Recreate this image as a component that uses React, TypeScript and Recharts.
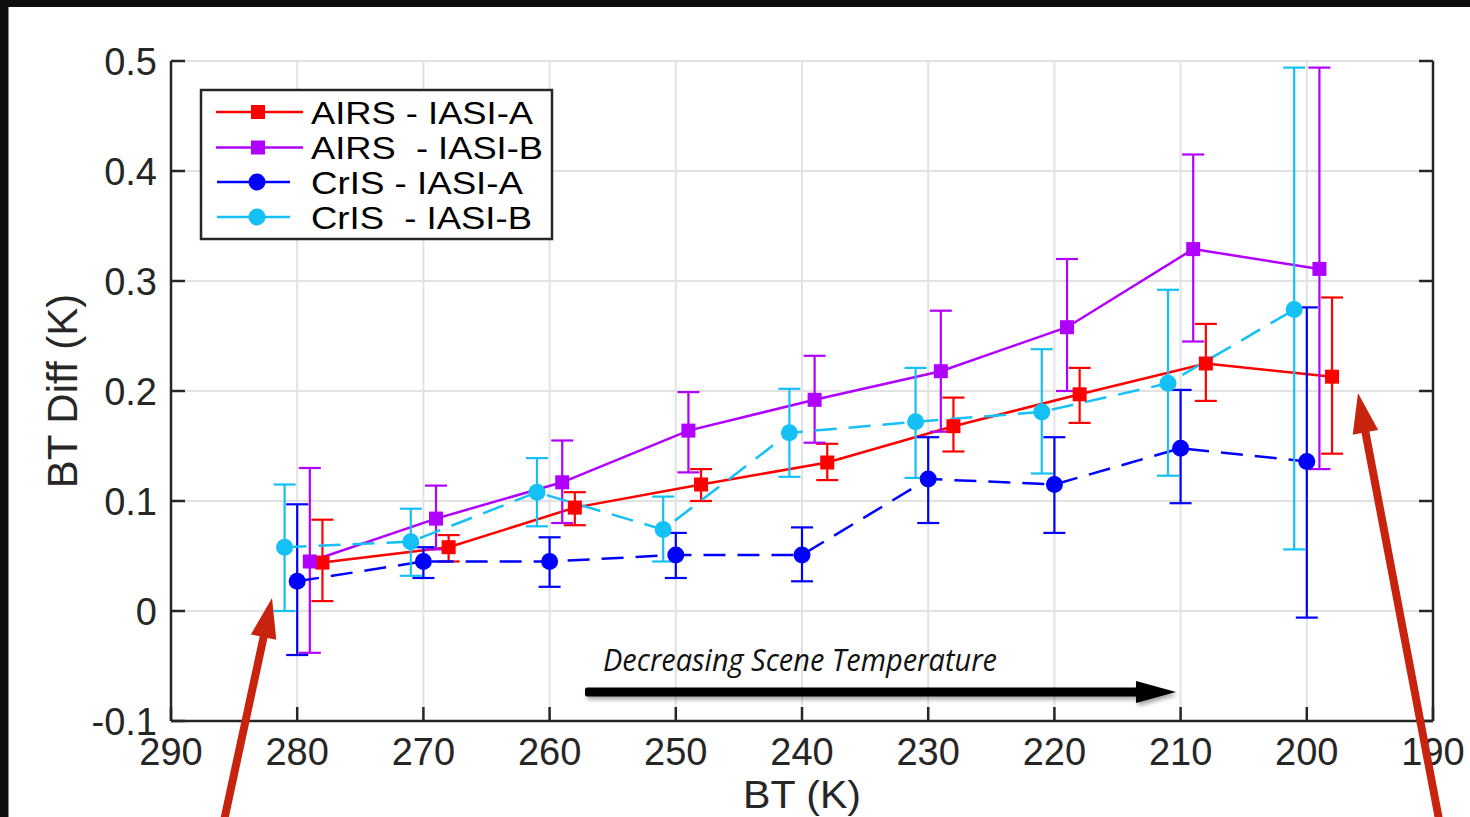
import React from 'react';
import { ComposedChart, Line, XAxis, YAxis, CartesianGrid, ErrorBar, Legend } from 'recharts';

// ---------- axes ----------
const X_TICKS = [290, 280, 270, 260, 250, 240, 230, 220, 210, 200, 190];
const Y_TICKS = [-0.1, 0, 0.1, 0.2, 0.3, 0.4, 0.5];

// ---------- series: AIRS - IASI-A ----------
const AIRS_A_BT = [278, 268, 258, 248, 238, 228, 218, 208, 198];
const AIRS_A_MEAN = [0.044, 0.058, 0.094, 0.115, 0.135, 0.168, 0.197, 0.225, 0.213];
const AIRS_A_LOW = [0.009, 0.045, 0.078, 0.1, 0.119, 0.145, 0.171, 0.191, 0.143];
const AIRS_A_HIGH = [0.083, 0.069, 0.108, 0.129, 0.152, 0.194, 0.221, 0.261, 0.285];

// ---------- series: AIRS - IASI-B ----------
const AIRS_B_BT = [279, 269, 259, 249, 239, 229, 219, 209, 199];
const AIRS_B_MEAN = [0.045, 0.084, 0.117, 0.164, 0.192, 0.218, 0.258, 0.329, 0.311];
const AIRS_B_LOW = [-0.038, 0.056, 0.08, 0.126, 0.153, 0.163, 0.2, 0.245, 0.129];
const AIRS_B_HIGH = [0.13, 0.114, 0.155, 0.199, 0.232, 0.273, 0.32, 0.415, 0.494];

// ---------- series: CrIS - IASI-A ----------
const CRIS_A_BT = [280, 270, 260, 250, 240, 230, 220, 210, 200];
const CRIS_A_MEAN = [0.027, 0.045, 0.045, 0.051, 0.051, 0.12, 0.115, 0.148, 0.136];
const CRIS_A_LOW = [-0.04, 0.03, 0.022, 0.03, 0.027, 0.08, 0.071, 0.098, -0.006];
const CRIS_A_HIGH = [0.097, 0.058, 0.067, 0.071, 0.076, 0.158, 0.158, 0.201, 0.276];

// ---------- series: CrIS - IASI-B ----------
const CRIS_B_BT = [281, 271, 261, 251, 241, 231, 221, 211, 201];
const CRIS_B_MEAN = [0.058, 0.063, 0.108, 0.074, 0.162, 0.172, 0.181, 0.207, 0.274];
const CRIS_B_LOW = [0.0, 0.032, 0.077, 0.045, 0.122, 0.121, 0.125, 0.123, 0.056];
const CRIS_B_HIGH = [0.115, 0.093, 0.139, 0.104, 0.202, 0.221, 0.238, 0.292, 0.494];

const LEGEND_LABELS = ['AIRS - IASI-A', 'AIRS  - IASI-B', 'CrIS - IASI-A', 'CrIS  - IASI-B'];
const LEGEND_TEXT_WIDTHS = [222, 232, 212, 221];
const X_TITLE = 'BT (K)';
const Y_TITLE = 'BT Diff (K)';
const ANNOTATION = 'Decreasing Scene Temperature';

// ---------- styles ----------
const W = 1470;
const H = 817;
const PLOT_LEFT = 171;
const PLOT_TOP = 61;
const PLOT_RIGHT = 1433;
const PLOT_BOTTOM = 721;
const AXIS_COLOR = '#262626';
const FONT = '"Liberation Sans", Arial, Helvetica, sans-serif';
const TICK_LEN = 14;

type Row = { x: number; y: number; err: [number, number] };
const build = (bt: number[], mean: number[], low: number[], high: number[]): Row[] =>
  bt.map((x, i) => ({ x, y: mean[i], err: [mean[i] - low[i], high[i] - mean[i]] }));

type Series = {
  name: string;
  color: string;
  marker: 'square' | 'circle';
  dash?: string;
  data: Row[];
};

const SERIES: Series[] = [
  { name: LEGEND_LABELS[0], color: '#ff0000', marker: 'square', data: build(AIRS_A_BT, AIRS_A_MEAN, AIRS_A_LOW, AIRS_A_HIGH) },
  { name: LEGEND_LABELS[1], color: '#b000ff', marker: 'square', data: build(AIRS_B_BT, AIRS_B_MEAN, AIRS_B_LOW, AIRS_B_HIGH) },
  { name: LEGEND_LABELS[2], color: '#0000ff', marker: 'circle', dash: '22 12', data: build(CRIS_A_BT, CRIS_A_MEAN, CRIS_A_LOW, CRIS_A_HIGH) },
  { name: LEGEND_LABELS[3], color: '#14c0f5', marker: 'circle', dash: '22 12', data: build(CRIS_B_BT, CRIS_B_MEAN, CRIS_B_LOW, CRIS_B_HIGH) },
];

const Marker = ({ cx, cy, color, marker }: { cx: number; cy: number; color: string; marker: string }) =>
  marker === 'square' ? (
    <rect x={cx - 7} y={cy - 7} width={14} height={14} fill={color} />
  ) : (
    <circle cx={cx} cy={cy} r={8.5} fill={color} />
  );

const makeDot = (s: Series) => (props: any) => {
  const { cx, cy, index } = props;
  if (cx == null || cy == null) return <g key={`e-${s.name}-${index}`} />;
  return (
    <g key={`d-${s.name}-${index}`}>
      <Marker cx={cx} cy={cy} color={s.color} marker={s.marker} />
    </g>
  );
};

const BottomTick = (props: any) => {
  const { x, payload } = props;
  return (
    <g>
      <line x1={x} x2={x} y1={PLOT_BOTTOM} y2={PLOT_BOTTOM - TICK_LEN} stroke={AXIS_COLOR} strokeWidth={2.5} />
      <text x={x} y={764.5} textAnchor="middle" fontSize={38} fontFamily={FONT} fill={AXIS_COLOR}>
        {String(payload.value)}
      </text>
    </g>
  );
};

const TopTick = (props: any) => {
  const { x } = props;
  return <line x1={x} x2={x} y1={PLOT_TOP} y2={PLOT_TOP + TICK_LEN} stroke={AXIS_COLOR} strokeWidth={2.5} />;
};

const LeftTick = (props: any) => {
  const { y, payload } = props;
  return (
    <g>
      <line x1={PLOT_LEFT} x2={PLOT_LEFT + TICK_LEN} y1={y} y2={y} stroke={AXIS_COLOR} strokeWidth={2.5} />
      <text x={157} y={y + 13.5} textAnchor="end" fontSize={38} fontFamily={FONT} fill={AXIS_COLOR}>
        {String(payload.value)}
      </text>
    </g>
  );
};

const RightTick = (props: any) => {
  const { y } = props;
  return <line x1={PLOT_RIGHT} x2={PLOT_RIGHT - TICK_LEN} y1={y} y2={y} stroke={AXIS_COLOR} strokeWidth={2.5} />;
};

const LegendBox = () => {
  const rows = [23, 58.5, 93, 128];
  return (
    <svg width={354} height={152} style={{ display: 'block', overflow: 'visible' }}>
      <rect x={1} y={1} width={351} height={149} fill="#ffffff" stroke={AXIS_COLOR} strokeWidth={2.5} />
      {SERIES.map((s, i) => {
        const isSq = s.marker === 'square';
        const x1 = isSq ? 16 : 17;
        const x2 = isSq ? 103 : 90;
        const mx = isSq ? 58 : 57;
        return (
          <g key={s.name}>
            <line x1={x1} x2={x2} y1={rows[i]} y2={rows[i]} stroke={s.color} strokeWidth={2.5} />
            <Marker cx={mx} cy={rows[i]} color={s.color} marker={s.marker} />
            <text
              x={111}
              y={rows[i] + 11.5}
              fontSize={31}
              fontFamily={FONT}
              fill="#000000"
              textLength={LEGEND_TEXT_WIDTHS[i]}
              lengthAdjust="spacingAndGlyphs"
              style={{ whiteSpace: 'pre' }}
            >
              {s.name}
            </text>
          </g>
        );
      })}
    </svg>
  );
};

const arrowPath = (tx: number, ty: number, hx: number, hy: number, w: number, L: number, hw: number) => {
  const dx = hx - tx;
  const dy = hy - ty;
  const len = Math.sqrt(dx * dx + dy * dy);
  const ux = dx / len;
  const uy = dy / len;
  const nx = -uy;
  const ny = ux;
  const bx = hx - ux * L;
  const by = hy - uy * L;
  const p = [
    [tx + (nx * w) / 2, ty + (ny * w) / 2],
    [bx + (nx * w) / 2, by + (ny * w) / 2],
    [bx + nx * hw, by + ny * hw],
    [hx, hy],
    [bx - nx * hw, by - ny * hw],
    [bx - (nx * w) / 2, by - (ny * w) / 2],
    [tx - (nx * w) / 2, ty - (ny * w) / 2],
  ];
  return 'M' + p.map((q) => `${q[0].toFixed(1)},${q[1].toFixed(1)}`).join(' L') + ' Z';
};

export default function App() {
  return (
    <div style={{ position: 'absolute', left: 0, top: 0, width: W, height: H, background: '#ffffff', overflow: 'hidden' }}>
      <ComposedChart width={W} height={H} margin={{ top: PLOT_TOP, right: 0, bottom: 0, left: 0 }}>
        <CartesianGrid stroke="#e2e2e2" strokeWidth={2} />
        <XAxis
          type="number"
          dataKey="x"
          domain={[190, 290]}
          reversed
          ticks={X_TICKS}
          interval={0}
          height={H - PLOT_BOTTOM}
          tickLine={false}
          axisLine={{ stroke: AXIS_COLOR, strokeWidth: 2.5 }}
          tick={<BottomTick />}
          allowDataOverflow
          label={{
            content: () => (
              <text
                x={802}
                y={808}
                textAnchor="middle"
                fontSize={39.5}
                fontFamily={FONT}
                fill={AXIS_COLOR}
                textLength={118}
                lengthAdjust="spacingAndGlyphs"
              >
                {X_TITLE}
              </text>
            ),
          }}
        />
        <XAxis
          xAxisId="top"
          orientation="top"
          type="number"
          dataKey="x"
          domain={[190, 290]}
          reversed
          ticks={X_TICKS}
          interval={0}
          height={0}
          tickLine={false}
          axisLine={{ stroke: AXIS_COLOR, strokeWidth: 2.5 }}
          tick={<TopTick />}
          allowDataOverflow
        />
        <YAxis
          type="number"
          domain={[-0.1, 0.5]}
          ticks={Y_TICKS}
          interval={0}
          width={PLOT_LEFT}
          tickLine={false}
          axisLine={{ stroke: AXIS_COLOR, strokeWidth: 2.5 }}
          tick={<LeftTick />}
          allowDataOverflow
          label={{
            content: () => (
              <text
                x={77}
                y={391}
                transform="rotate(-90 77 391)"
                textAnchor="middle"
                fontSize={42}
                fontFamily={FONT}
                fill={AXIS_COLOR}
              >
                {Y_TITLE}
              </text>
            ),
          }}
        />
        <YAxis
          yAxisId="right"
          orientation="right"
          type="number"
          domain={[-0.1, 0.5]}
          ticks={Y_TICKS}
          interval={0}
          width={W - PLOT_RIGHT}
          tickLine={false}
          axisLine={{ stroke: AXIS_COLOR, strokeWidth: 2.5 }}
          tick={<RightTick />}
          allowDataOverflow
        />
        <Legend
          layout="vertical"
          verticalAlign="middle"
          align="center"
          wrapperStyle={{ left: 200, top: 89, width: 354, height: 152, margin: 0, padding: 0 }}
          content={() => <LegendBox />}
        />
        {SERIES.map((s) => (
          <Line
            key={s.name}
            name={s.name}
            data={s.data}
            dataKey="y"
            type="linear"
            stroke={s.color}
            strokeWidth={2.5}
            strokeDasharray={s.dash}
            dot={makeDot(s)}
            activeDot={false}
            isAnimationActive={false}
          >
            <ErrorBar dataKey="err" direction="y" width={11} stroke={s.color} strokeWidth={2.2} isAnimationActive={false} />
          </Line>
        ))}
      </ComposedChart>

      {/* annotations */}
      <svg
        width={W}
        height={H}
        style={{ position: 'absolute', left: 0, top: 0, pointerEvents: 'none' }}
      >
        <defs>
          <filter id="sh" x="-5%" y="-50%" width="110%" height="200%">
            <feGaussianBlur stdDeviation="2" />
          </filter>
        </defs>
        <text
          x={603}
          y={671}
          fontSize={31}
          fontStyle="italic"
          fontFamily='"Open Sans", "Noto Sans", sans-serif'
          fill="#111111"
          textLength={394}
          lengthAdjust="spacingAndGlyphs"
        >
          {ANNOTATION}
        </text>
        <g opacity={0.35} filter="url(#sh)" transform="translate(2,3)">
          <rect x={585} y={687.5} width={556} height={9} fill="#000" />
          <polygon points="1136,681 1176,692 1136,703" fill="#000" />
        </g>
        <rect x={585} y={687.5} width={556} height={9} rx={2} fill="#000000" />
        <polygon points="1136,681 1176,692 1136,703" fill="#000000" />

        <path d={arrowPath(222, 830, 272, 598, 8, 40, 13)} fill="#c8230e" />
        <path d={arrowPath(1441, 830, 1358, 393, 8, 40, 13)} fill="#c8230e" />

        <rect x={0} y={0} width={W} height={7} fill="#0e0e0e" />
        <rect x={0} y={0} width={8} height={H} fill="#0e0e0e" />
        <rect x={8} y={7} width={1} height={H} fill="#8a8a8a" />
      </svg>
    </div>
  );
}
